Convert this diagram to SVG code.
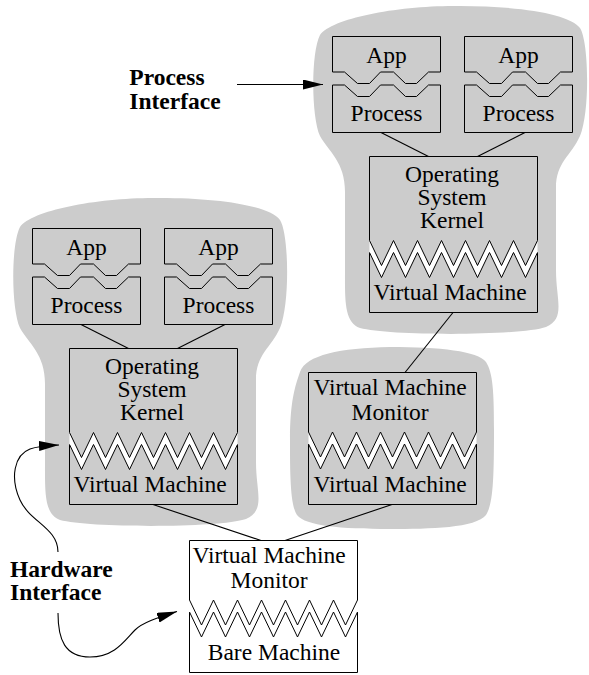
<svg xmlns="http://www.w3.org/2000/svg" xmlns:xlink="http://www.w3.org/1999/xlink" width="589" height="675" viewBox="0 0 589 675">
<style>
.blob{fill:#cccccc;stroke:none}
.box{fill:none;stroke:#000;stroke-width:1}
.zzband{fill:#fff;stroke:none}
.zzline{fill:none;stroke:#000;stroke-width:1;stroke-linejoin:miter}
.conn{fill:none;stroke:#000;stroke-width:1.1}
.t{font-family:"Liberation Serif","Times New Roman",serif;font-size:23.5px;fill:#000;text-anchor:middle}
.lbl{font-family:"Liberation Serif","Times New Roman",serif;font-size:23.5px;font-weight:bold;fill:#000}
</style>
<defs>
<path id="blobShape" class="blob" d="M320,35 C332,18 400,5 460,6 C520,6 570,14 580,28 C589,42 590,112 580,136 C571,156 556,162 556,188 L556,270 C556,300 566,318 546,327 C520,336 390,336 360,328 C344,322 345,300 345,270 L345,192 C345,162 329,152 320,136 C311,116 311,52 320,35 Z"/>
<g id="zz">
<path class="zzband" d="M0,0 L12,25 L24,0 L36,25 L48,0 L60,25 L72,0 L84,25 L96,0 L108,25 L120,0 L132,25 L144,0 L156,25 L168,0 L168,12 L156,37 L144,12 L132,37 L120,12 L108,37 L96,12 L84,37 L72,12 L60,37 L48,12 L36,37 L24,12 L12,37 L0,12 Z"/>
<path class="zzline" d="M0,0 L12,25 L24,0 L36,25 L48,0 L60,25 L72,0 L84,25 L96,0 L108,25 L120,0 L132,25 L144,0 L156,25 L168,0"/>
<path class="zzline" d="M0,12 L12,37 L24,12 L36,37 L48,12 L60,37 L72,12 L84,37 L96,12 L108,37 L120,12 L132,37 L144,12 L156,37 L168,12"/>
</g>
<g id="osBox">
<path class="box" d="M0,84 V0 H168 V84 M0,96 V156 H168 V96"/>
<use xlink:href="#zz" href="#zz" x="0" y="84"/>
</g>
<g id="vmmBox">
<path class="box" d="M0,59.5 V0 H168 V59.5 M0,71.5 V132 H168 V71.5"/>
<use xlink:href="#zz" href="#zz" x="0" y="59.5"/>
</g>
<path id="appShape" class="box" d="M0,0 H108 V35.5 H96 L84,47 H73 L61,35.5 H48 L37,47 H25 L12,35.5 H0 Z"/>
<path id="procShape" class="box" d="M0,48.5 H12 L25,60 H37 L48,48.5 H61 L73,60 H84 L96,48.5 H108 V96 H0 Z"/>
<marker id="ah" markerUnits="userSpaceOnUse" markerWidth="21" markerHeight="11" refX="20" refY="5" orient="auto">
<path d="M0,0 L20,5 L0,10 Z" fill="#000"/>
</marker>
</defs>

<g id="blobs">
<use id="blob-top" xlink:href="#blobShape" href="#blobShape"/>
<use id="blob-left" xlink:href="#blobShape" href="#blobShape" transform="translate(-300,192)"/>
<path id="blob-mid" class="blob" d="M300,372 C306,355 340,348 390,347 C440,347 478,351 486,362 C493,373 494,392 494,430 C494,480 493,504 486,515 C476,528 430,529 390,529 C340,529 306,526 297,515 C290,505 290,470 290,440 C290,402 295,386 300,372 Z"/>
</g>

<g id="connectors">
<line class="conn" x1="381" y1="132.5" x2="428.5" y2="156.5"/>
<line class="conn" x1="525" y1="132.5" x2="477.5" y2="156.5"/>
<line class="conn" x1="81" y1="324.5" x2="128.5" y2="348.5"/>
<line class="conn" x1="225" y1="324.5" x2="177.5" y2="348.5"/>
<line class="conn" x1="453" y1="312.5" x2="405" y2="372.5"/>
<line class="conn" x1="392" y1="504.5" x2="285" y2="540.5"/>
<line class="conn" x1="153" y1="504.5" x2="261" y2="540.5"/>
<line class="conn" x1="237" y1="84.5" x2="323" y2="84.5" marker-end="url(#ah)"/>
<path class="conn" d="M58,552 C58,528 30,522 20,500 C10,478 14,455 30,449 C38,446 48,445.5 59,445" marker-end="url(#ah)"/>
<path class="conn" d="M58,613 C58,640 65,657 90,657 C115,657 125,640 135,630 C143,622 160,617 177,611.5" marker-end="url(#ah)"/>
</g>

<g id="tr-app1"><use xlink:href="#appShape" href="#appShape" x="332.5" y="36.5"/><text class="t" x="386.5" y="63.3">App</text></g>
<g id="tr-proc1"><use xlink:href="#procShape" href="#procShape" x="332.5" y="36.5"/><text class="t" x="386.5" y="120.5">Process</text></g>
<g id="tr-app2"><use xlink:href="#appShape" href="#appShape" x="464.5" y="36.5"/><text class="t" x="518.5" y="63.3">App</text></g>
<g id="tr-proc2"><use xlink:href="#procShape" href="#procShape" x="464.5" y="36.5"/><text class="t" x="518.5" y="120.5">Process</text></g>
<g id="tr-os"><use xlink:href="#osBox" href="#osBox" x="369.5" y="156.5"/>
<text class="t" x="452" y="181.5">Operating</text><text class="t" x="452" y="204.5">System</text><text class="t" x="452" y="228">Kernel</text>
<text class="t" x="450" y="300">Virtual Machine</text></g>

<g id="l-app1"><use xlink:href="#appShape" href="#appShape" x="32.5" y="228.5"/><text class="t" x="86.5" y="255.3">App</text></g>
<g id="l-proc1"><use xlink:href="#procShape" href="#procShape" x="32.5" y="228.5"/><text class="t" x="86.5" y="312.5">Process</text></g>
<g id="l-app2"><use xlink:href="#appShape" href="#appShape" x="164.5" y="228.5"/><text class="t" x="218.5" y="255.3">App</text></g>
<g id="l-proc2"><use xlink:href="#procShape" href="#procShape" x="164.5" y="228.5"/><text class="t" x="218.5" y="312.5">Process</text></g>
<g id="l-os"><use xlink:href="#osBox" href="#osBox" x="69.5" y="348.5"/>
<text class="t" x="152" y="373.5">Operating</text><text class="t" x="152" y="396.5">System</text><text class="t" x="152" y="420">Kernel</text>
<text class="t" x="150" y="492">Virtual Machine</text></g>

<g id="mid-vmm"><use xlink:href="#vmmBox" href="#vmmBox" x="308.5" y="372.5"/>
<text class="t" x="390" y="395">Virtual Machine</text><text class="t" x="390" y="420">Monitor</text>
<text class="t" x="390" y="492">Virtual Machine</text></g>

<g id="bare-vmm"><use xlink:href="#vmmBox" href="#vmmBox" x="189.5" y="540.5"/>
<text class="t" x="269" y="563.3">Virtual Machine</text><text class="t" x="269" y="588.3">Monitor</text>
<text class="t" x="274" y="660">Bare Machine</text></g>

<g id="label-process-interface"><text class="lbl" x="129.3" y="85">Process</text><text class="lbl" x="129.3" y="109.3">Interface</text></g>
<g id="label-hardware-interface"><text class="lbl" x="10" y="576.7">Hardware</text><text class="lbl" x="10" y="600">Interface</text></g>
</svg>
